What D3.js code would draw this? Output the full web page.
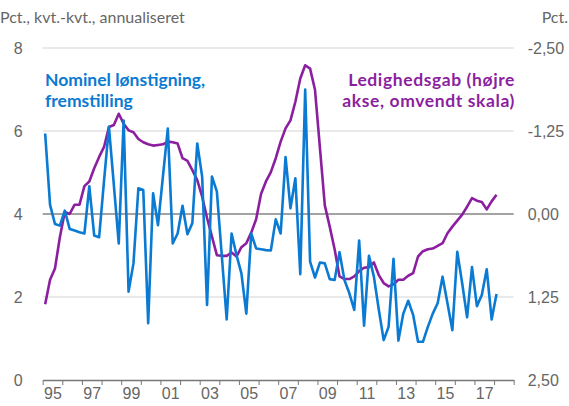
<!DOCTYPE html>
<html>
<head>
<meta charset="utf-8">
<script src="https://cdn.jsdelivr.net/npm/d3@7"></script>
<style>
    body { margin: 0; background: #fff; }
    svg { display: block; font-family: Lato, "Open Sans", sans-serif; }
    .tick-label { fill: #666; font-size: 16px; }
    .axis-title { fill: #666; font-size: 16px; }
    .legend { font-size: 17.5px; font-weight: bold; }
</style>
</head>
<body>
<svg id="chart"></svg>
<script>
// Quarterly data, 1995K1 - 2018K1
const firstYear = 1995;

// Nominel lønstigning, fremstilling (pct., kvt.-kvt., annualiseret) - left axis
const wageGrowth = [
    5.94, 4.22, 3.76, 3.72, 4.08, 3.64, 3.60, 3.56, 3.53, 4.67,
    3.48, 3.44, 4.80, 6.10, 4.70, 3.29, 6.25, 2.13, 2.81, 4.62,
    4.58, 1.37, 4.50, 3.73, 4.90, 6.06, 3.29, 3.53, 4.20, 3.51,
    3.78, 5.70, 4.90, 1.81, 4.90, 4.54, 3.00, 1.46, 3.53, 3.01,
    2.57, 1.60, 3.53, 3.17, 3.15, 3.13, 3.12, 3.87, 3.53, 5.37,
    4.14, 4.86, 2.55, 7.00, 2.85, 2.47, 2.83, 2.81, 2.43, 2.41,
    3.08, 2.41, 2.09, 1.69, 3.36, 1.31, 2.99, 2.49, 1.70, 0.96,
    1.28, 2.92, 0.95, 1.60, 1.91, 1.57, 0.92, 0.92, 1.28, 1.60,
    1.85, 2.49, 1.85, 1.20, 3.09, 2.33, 1.51, 2.72, 1.78, 2.05,
    2.67, 1.46, 2.07
];

// Ledighedsgab (pct.) - right axis, reversed
const unemploymentGap = [
    1.36, 0.99, 0.82, 0.35, -0.03, 0.00, -0.14, -0.14, -0.42, -0.49,
    -0.69, -0.86, -1.01, -1.31, -1.34, -1.51, -1.36, -1.26, -1.23, -1.13,
    -1.08, -1.05, -1.03, -1.04, -1.05, -1.09, -1.08, -1.06, -0.84, -0.80,
    -0.66, -0.51, -0.26, 0.06, 0.34, 0.62, 0.63, 0.63, 0.58, 0.64,
    0.50, 0.44, 0.28, 0.08, -0.30, -0.49, -0.63, -0.84, -1.09, -1.29,
    -1.41, -1.69, -2.04, -2.24, -2.19, -1.87, -1.00, -0.13, 0.19, 0.53,
    0.94, 0.98, 0.98, 0.94, 0.86, 0.81, 0.80, 0.73, 0.92, 1.04,
    1.09, 1.06, 0.99, 0.99, 0.93, 0.89, 0.64, 0.56, 0.53, 0.52,
    0.48, 0.44, 0.29, 0.19, 0.10, 0.01, -0.11, -0.24, -0.20, -0.18,
    -0.07, -0.19, -0.29
];

const leftTicks = [0, 2, 4, 6, 8];
const rightTicks = [2.5, 1.25, 0, -1.25, -2.5];
const yearLabels = ["95", "97", "99", "01", "03", "05", "07", "09", "11", "13", "15", "17"];

class DualAxisChart {
    constructor(_config) {
        this.config = {
            parentElement: _config.parentElement,
            containerWidth: _config.containerWidth || 569,
            containerHeight: _config.containerHeight || 406,
            margin: { top: 48, right: 55.3, bottom: 26, left: 42.7 },
        };
        this.initVis();
    }

    initVis() {
        let vis = this;

        vis.width = vis.config.containerWidth - vis.config.margin.left - vis.config.margin.right;
        vis.height = vis.config.containerHeight - vis.config.margin.top - vis.config.margin.bottom;

        vis.xScale = d3.scaleLinear().domain([firstYear, 2019]).range([0, vis.width]);
        vis.yLeft = d3.scaleLinear().domain([0, 8]).range([vis.height, 0]);
        // right axis is turned upside down
        vis.yRight = d3.scaleLinear().domain([2.5, -2.5]).range([vis.height, 0]);

        vis.svg = d3.select(vis.config.parentElement)
            .attr("width", vis.config.containerWidth)
            .attr("height", vis.config.containerHeight);

        vis.chart = vis.svg.append("g")
            .attr("transform", `translate(${vis.config.margin.left},${vis.config.margin.top})`);

        // Axis titles
        vis.svg.append("text")
            .attr("class", "axis-title")
            .attr("x", 0)
            .attr("y", 23)
            .text("Pct., kvt.-kvt., annualiseret");

        vis.svg.append("text")
            .attr("class", "axis-title")
            .attr("x", vis.config.containerWidth - 1)
            .attr("y", 23)
            .attr("text-anchor", "end")
            .text("Pct.");
    }

    renderVis() {
        let vis = this;

        // Gridlines (the 4 / 0,00 line is darker)
        vis.chart.selectAll(".grid")
            .data(leftTicks.filter(d => d !== 0))
            .join("line")
            .attr("class", "grid")
            .attr("x1", 0)
            .attr("x2", vis.width)
            .attr("y1", d => vis.yLeft(d))
            .attr("y2", d => vis.yLeft(d))
            .attr("stroke", d => d === 4 ? "#858585" : "#d4d4d4")
            .attr("stroke-width", d => d === 4 ? 1.6 : 1.2);

        // Left axis labels
        const yAxisL = d3.axisLeft(vis.yLeft).tickValues(leftTicks).tickSize(0).tickPadding(20);
        const gL = vis.chart.append("g").call(yAxisL);
        gL.select(".domain").remove();
        gL.selectAll("text").attr("class", "tick-label").attr("dy", "0.35em").style("font-size", null);

        // Right axis labels, plain hyphen and decimal comma
        const yAxisR = d3.axisRight(vis.yRight).tickValues(rightTicks).tickSize(0).tickPadding(14)
            .tickFormat(d => d3.format(".2f")(d).replace("−", "-").replace(".", ","));
        const gR = vis.chart.append("g")
            .attr("transform", `translate(${vis.width},0)`)
            .call(yAxisR);
        gR.select(".domain").remove();
        gR.selectAll("text").attr("class", "tick-label").attr("dy", "0.35em").style("font-size", null);

        // X axis: one tick per year, labels every other year in the middle of the year
        const xAxis = d3.axisBottom(vis.xScale)
            .tickValues(d3.range(firstYear, 2020))
            .tickFormat("")
            .tickSize(5)
            .tickSizeOuter(0);
        const gX = vis.chart.append("g")
            .attr("transform", `translate(0,${vis.height})`)
            .call(xAxis);
        gX.select(".domain").attr("stroke", "#777").attr("stroke-width", 1.5);
        gX.selectAll(".tick line").attr("stroke", "#777");

        const xLabels = d3.axisBottom(vis.xScale)
            .tickValues(yearLabels.map((d, i) => firstYear + 2 * i + 0.5))
            .tickFormat((d, i) => yearLabels[i])
            .tickSize(0)
            .tickPadding(8);
        const gXL = vis.chart.append("g")
            .attr("transform", `translate(0,${vis.height})`)
            .call(xLabels);
        gXL.select(".domain").remove();
        gXL.selectAll("text").attr("class", "tick-label").attr("dy", "0.71em").style("font-size", null);

        const xValue = (d, i) => vis.xScale(firstYear + i * 0.25 + 0.125);

        // Lines
        vis.chart.append("path")
            .datum(unemploymentGap)
            .attr("fill", "none")
            .attr("stroke", "#8b1fa0")
            .attr("stroke-width", 2.6)
            .attr("stroke-linejoin", "round")
            .attr("d", d3.line().x(xValue).y(d => vis.yRight(d)));

        vis.chart.append("path")
            .datum(wageGrowth)
            .attr("fill", "none")
            .attr("stroke", "#0a7ad2")
            .attr("stroke-width", 2.6)
            .attr("stroke-linejoin", "round")
            .attr("d", d3.line().x(xValue).y(d => vis.yLeft(d)));

        // Legend texts
        vis.svg.append("text")
            .attr("class", "legend")
            .attr("fill", "#0a7ad2")
            .attr("y", 86)
            .selectAll("tspan")
            .data(["Nominel lønstigning,", "fremstilling"])
            .join("tspan")
            .attr("x", 45)
            .attr("dy", (d, i) => i ? 21 : 0)
            .text(d => d);

        vis.svg.append("text")
            .attr("class", "legend")
            .attr("fill", "#8b1fa0")
            .attr("text-anchor", "end")
            .attr("letter-spacing", 0.6)
            .attr("y", 86)
            .selectAll("tspan")
            .data(["Ledighedsgab (højre", "akse, omvendt skala)"])
            .join("tspan")
            .attr("x", 515)
            .attr("dy", (d, i) => i ? 21 : 0)
            .text(d => d);
    }
}

const chart = new DualAxisChart({ parentElement: "#chart" });
chart.renderVis();
</script>
</body>
</html>
